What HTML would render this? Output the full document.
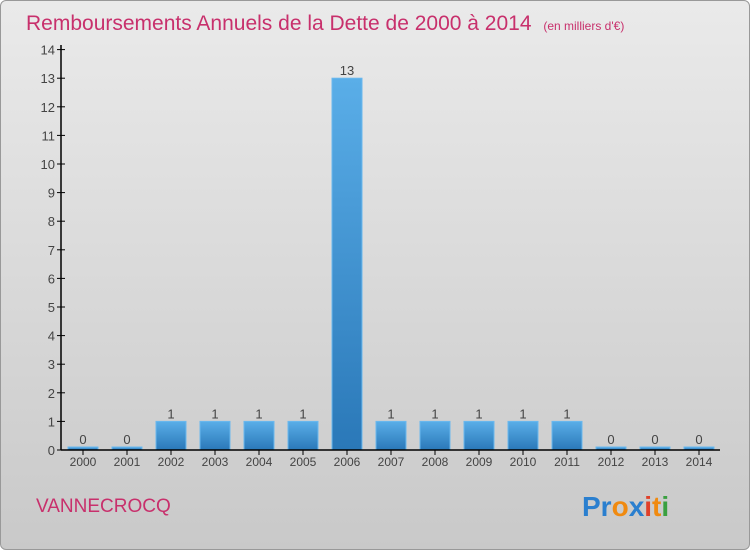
<!DOCTYPE html>
<html><head><meta charset="utf-8"><style>
body{margin:0;width:750px;height:550px;overflow:hidden;font-family:"Liberation Sans",sans-serif}
#frame{position:absolute;left:0;top:0;width:748px;height:548px;border:1px solid #999;border-radius:6px;background:linear-gradient(#eaeaea,#c9c9c9)}
</style></head><body>
<div id="frame"></div>
<svg id="chart" width="750" height="550" style="position:absolute;left:0;top:0">
<defs><linearGradient id="bg" x1="0" y1="0" x2="0" y2="1"><stop offset="0" stop-color="#5aaee8"/><stop offset="1" stop-color="#2a78b8"/></linearGradient></defs>
<text x="26" y="30" font-size="21" fill="#c8306c">Remboursements Annuels de la Dette de 2000 à 2014 <tspan font-size="12" dx="6">(en milliers d'€)</tspan></text>
<text x="36" y="512" font-size="19" fill="#c8306c">VANNECROCQ</text>
<text x="582" y="516" font-size="28" font-weight="bold"><tspan fill="#2a7fcf">Pr</tspan><tspan fill="#f08a10">o</tspan><tspan fill="#2a7fcf">x</tspan><tspan fill="#e0402a">i</tspan><tspan fill="#f08a10">t</tspan><tspan fill="#3aa040">i</tspan></text>
<g id="plot"></g>
</svg>
<script>
const categories=["2000","2001","2002","2003","2004","2005","2006","2007","2008","2009","2010","2011","2012","2013","2014"];
const values=[0,0,1,1,1,1,13,1,1,1,1,1,0,0,0];
const yTicks=[0,1,2,3,4,5,6,7,8,9,10,11,12,13,14];
const NS="http://www.w3.org/2000/svg";
const g=document.getElementById('plot');
const y=v=>450-v*28.6;
const x=i=>83+i*44;
function el(t,a){const e=document.createElementNS(NS,t);for(const k in a)e.setAttribute(k,a[k]);g.appendChild(e);return e;}
yTicks.forEach(v=>{
 const l=el('line',{x1:57,x2:65,y1:y(v),y2:y(v),stroke:'#000'});
 
 
 const t=el('text',{x:55,y:y(v)+5,'font-size':13,fill:'#444','text-anchor':'end'});t.textContent=v;
 
 
});
categories.forEach((c,i)=>{
 const v=values[i];const h=Math.max(450-y(v),3);
 const r=el('rect',{x:x(i)-15,y:450-h,width:30,height:h,fill:'url(#bg)',stroke:'#6ab8ee','stroke-width':1});
 
 
 const vt=el('text',{x:x(i),y:450-h-3,'font-size':13,fill:'#444','text-anchor':'middle'});vt.textContent=v;
 
 
 const tk=el('line',{x1:x(i),x2:x(i),y1:450,y2:455,stroke:'#000'});
 
 
 const t=el('text',{x:x(i),y:466,'font-size':12,fill:'#444','text-anchor':'middle'});t.textContent=c;
 
 
});
const ya=el('line',{x1:61,x2:61,y1:45,y2:450,stroke:'#000','stroke-width':1.5});


const xa=el('line',{x1:61,x2:720,y1:450,y2:450,stroke:'#000','stroke-width':1.5});


</script>
</body></html>
